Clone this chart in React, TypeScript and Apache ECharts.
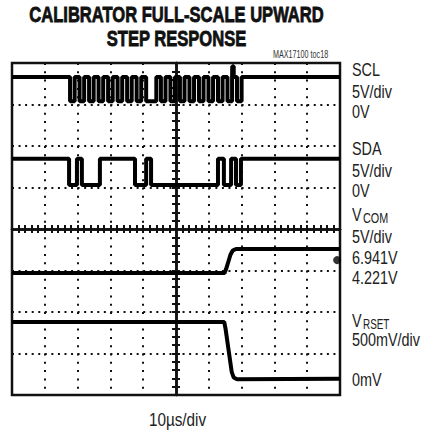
import React, { useEffect, useRef } from 'react';
import * as echarts from 'echarts';

// Time axis in µs relative to screen centre (10 µs/div), vertical axis in divisions
const sclHigh = 3.66;
const sclLow = 3.08;
const sclEdges = [
  -32.3, -30.9, -29.4, -28.0, -26.5, -25.1, -23.6, -22.2, -20.7, -19.3, -17.8, -16.4,
  -14.9, -13.5, -12.0, -10.6, -9.1, -6.0, -4.6, -3.2, -1.7, -0.3, 1.2, 2.6, 4.1, 5.5,
  7.0, 8.4, 9.9, 11.3, 12.8, 14.2, 15.7, 17.1, 18.6, 20.0,
];
const sclSpike: [number, number][] = [
  [17.15, 3.92],
  [17.6, 3.66],
];

const sdaHigh = 1.69;
const sdaLow = 1.06;
const sdaEdges = [-32.6, -30.2, -28.7, -23.2, -12.5, -9.1, -7.6, 12.8, 14.6, 16.8, 18.3, 19.8];

const vcomPoints: [number, number][] = [
  [-50, -1.06], [14.8, -1.06], [15.3, -0.96], [16.6, -0.62], [17.3, -0.52], [18.3, -0.48], [50, -0.48],
];
const vrsetPoints: [number, number][] = [
  [-50, -2.24], [14.7, -2.24], [15.1, -2.4], [17.0, -3.45], [17.6, -3.58], [18.6, -3.62], [50, -3.61],
];
const groundMarker: [number, number][] = [[49.1, -0.75]];

const titleLines = ['CALIBRATOR FULL-SCALE UPWARD', 'STEP RESPONSE'];
const tocLabel = 'MAX17100 toc18';
const timeLabel = '10\u00b5s/div';

function edgesToSteps(edges: number[], high: number, low: number): [number, number][] {
  const pts: [number, number][] = [[-50, high]];
  edges.forEach((t, i) => pts.push([t, i % 2 === 0 ? low : high]));
  pts.push([50, high]);
  return pts;
}

const FONT = '"Liberation Sans", Arial, sans-serif';

function txt(text: string, x: number, y: number, size: number, scaleX: number, opts: any = {}) {
  return {
    type: 'text',
    x,
    y,
    scaleX,
    silent: true,
    style: {
      text,
      fontSize: size,
      fontFamily: FONT,
      fontWeight: opts.weight || 'normal',
      fill: opts.fill || '#222',
      align: opts.align || 'left',
      textAlign: opts.align || 'left',
      verticalAlign: 'middle',
      textVerticalAlign: 'middle',
      stroke: opts.stroke,
      lineWidth: opts.strokeWidth || 0,
    },
  };
}

export default function App() {
  const ref = useRef<HTMLDivElement>(null);
  useEffect(() => {
    document.body.style.margin = '0';
    const chart = echarts.init(ref.current!, null, { renderer: 'svg' });
    const sclData = edgesToSteps(sclEdges, sclHigh, sclLow)
      .concat(sclSpike)
      .sort((a, b) => a[0] - b[0]);
    const sdaData = edgesToSteps(sdaEdges, sdaHigh, sdaLow);
    const black = '#111';
    const traceStyle = { color: '#000', width: 4 };
    const crossAxisX = (pos: 'bottom' | 'top') => ({
      type: 'value',
      min: -50,
      max: 50,
      interval: 2,
      position: pos,
      axisLine: { show: true, onZero: true, lineStyle: { color: black, width: 2.5 } },
      axisTick: { show: true, inside: true, length: 4, lineStyle: { color: black, width: 2 } },
      axisLabel: { show: false },
      splitLine: { show: false },
    });
    const crossAxisY = (pos: 'left' | 'right') => ({
      type: 'value',
      min: -4,
      max: 4,
      interval: 0.2,
      position: pos,
      axisLine: { show: true, onZero: true, lineStyle: { color: black, width: 2.5 } },
      axisTick: { show: true, inside: true, length: 4, lineStyle: { color: black, width: 2 } },
      axisLabel: { show: false },
      splitLine: { show: false },
    });
    chart.setOption({
      animation: false,
      backgroundColor: '#fff',
      grid: {
        left: 12,
        top: 63,
        right: 93,
        bottom: 40,
        show: true,
        borderColor: black,
        borderWidth: 2.5,
        backgroundColor: 'transparent',
        z: 3,
      },
      xAxis: [
        {
          type: 'value',
          min: -50,
          max: 50,
          interval: 10,
          axisLine: { show: false },
          axisTick: { show: false },
          axisLabel: { show: false },
          splitLine: { show: true, lineStyle: { color: black, width: 2, type: [2, 6.3] } },
        },
        crossAxisX('bottom'),
        crossAxisX('top'),
      ],
      yAxis: [
        {
          type: 'value',
          min: -4,
          max: 4,
          interval: 1,
          axisLine: { show: false },
          axisTick: { show: false },
          axisLabel: { show: false },
          splitLine: { show: true, lineStyle: { color: black, width: 2, type: [2, 4.56] } },
        },
        crossAxisY('left'),
        crossAxisY('right'),
      ],
      series: [
        { name: 'SCL', type: 'line', step: 'end', data: sclData, showSymbol: false, symbol: 'none', lineStyle: traceStyle, z: 5 },
        { name: 'SDA', type: 'line', step: 'end', data: sdaData, showSymbol: false, symbol: 'none', lineStyle: traceStyle, z: 5 },
        { name: 'VCOM', type: 'line', data: vcomPoints, showSymbol: false, symbol: 'none', lineStyle: traceStyle, z: 5 },
        { name: 'VRSET', type: 'line', data: vrsetPoints, showSymbol: false, symbol: 'none', lineStyle: traceStyle, z: 5 },
        { name: 'marker', type: 'scatter', data: groundMarker, symbol: 'circle', symbolSize: 8, itemStyle: { color: '#000' }, z: 6 },
      ],
      graphic: [
        txt(titleLines[0], 176.5, 15, 21.5, 0.77, { align: 'center', weight: 'bold', fill: '#111', stroke: '#111', strokeWidth: 0.8 }),
        txt(titleLines[1], 176.5, 39, 21.5, 0.77, { align: 'center', weight: 'bold', fill: '#111', stroke: '#111', strokeWidth: 0.8 }),
        txt(tocLabel, 273, 55, 10, 0.72, { fill: '#333' }),
        txt('SCL', 352, 69, 18, 0.8),
        txt('5V/div', 352, 91, 18, 0.8),
        txt('0V', 352, 111, 18, 0.8),
        txt('SDA', 352, 148, 18, 0.8),
        txt('5V/div', 352, 170, 18, 0.8),
        txt('0V', 352, 190, 18, 0.8),
        txt('V', 352, 214, 18, 0.8),
        txt('COM', 363, 218, 15, 0.72),
        txt('5V/div', 352, 236, 18, 0.8),
        txt('6.941V', 352, 257, 18, 0.8),
        txt('4.221V', 352, 277, 18, 0.8),
        txt('V', 352, 320, 18, 0.8),
        txt('RSET', 363, 324, 15, 0.66),
        txt('500mV/div', 352, 339, 18, 0.8),
        txt('0mV', 352, 379, 18, 0.8),
        txt(timeLabel, 177.5, 420, 18, 0.85, { align: 'center' }),
      ],
    });
    return () => chart.dispose();
  }, []);
  return <div ref={ref} style={{ position: 'absolute', left: 0, top: 0, width: 433, height: 435 }} />;
}
